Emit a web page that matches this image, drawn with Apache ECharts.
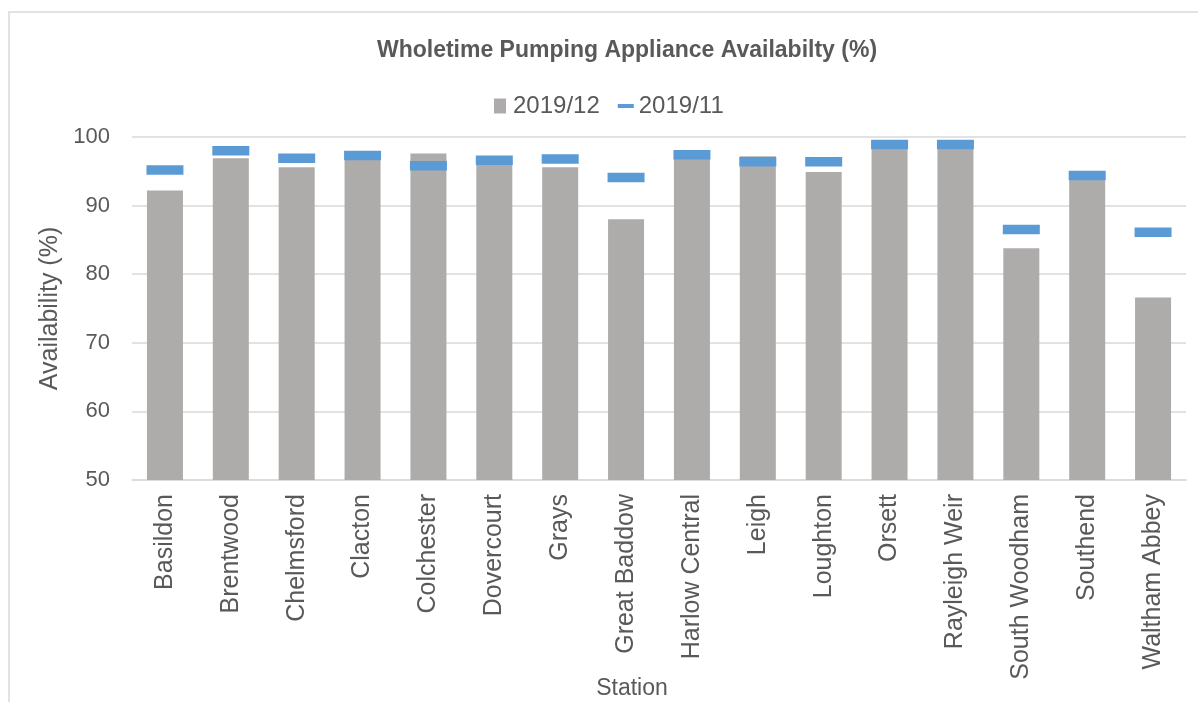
<!DOCTYPE html>
<html>
<head>
<meta charset="utf-8">
<script src="https://cdn.jsdelivr.net/npm/echarts@6/dist/echarts.min.js"></script>
<style>
html,body{margin:0;padding:0;background:#fff;}
#c{width:1198px;height:702px;}
</style>
</head>
<body>
<div id="c"></div>
<script>
const stations = ['Basildon','Brentwood','Chelmsford','Clacton','Colchester','Dovercourt','Grays','Great Baddow','Harlow Central','Leigh','Loughton','Orsett','Rayleigh Weir','South Woodham','Southend','Waltham Abbey'];
const dec2019 = [92.2, 96.9, 95.6, 96.8, 97.6, 96.0, 95.6, 88.0, 97.0, 97.2, 94.9, 98.4, 98.4, 83.8, 94.0, 76.6];
const nov2019 = [95.2, 98.0, 96.9, 97.3, 95.8, 96.6, 96.8, 94.1, 97.4, 96.4, 96.4, 98.9, 98.9, 86.5, 94.4, 86.1];
const yTicks = [50, 60, 70, 80, 90, 100];

const txt = '#595959';
const font = 'Liberation Sans, Arial, sans-serif';
const chart = echarts.init(document.getElementById('c'));
chart.setOption({
  animation: false,
  backgroundColor: '#fff',
  textStyle: {fontFamily: font, color: txt},
  graphic: [{
    type: 'rect', shape: {x: 9, y: 12, width: 1300, height: 800},
    style: {fill: 'none', stroke: '#d9d9d9', lineWidth: 1.5}, silent: true
  }],
  title: {
    text: 'Wholetime Pumping Appliance Availabilty (%)',
    left: 622, top: 34, textAlign: 'center',
    textStyle: {fontFamily: font, fontSize: 23, fontWeight: 'bold', color: txt}
  },
  legend: {
    left: 489, top: 89, itemGap: 18, itemWidth: 16, itemHeight: 15,
    textStyle: {fontFamily: font, fontSize: 24, color: txt},
    data: [
      {name: '2019/12', icon: 'path://M0,0H12V15H0Z'},
      {name: '2019/11', icon: 'path://M0,0H16V4H0Z'}
    ]
  },
  grid: {left: 132, right: 12, top: 137, bottom: 222, containLabel: false, outerBoundsMode: 'none'},
  xAxis: {
    type: 'category', data: stations,
    name: 'Station', nameLocation: 'middle', nameGap: 197, nameMoveOverlap: false,
    nameTextStyle: {fontFamily: font, fontSize: 23, color: txt, padding: [0, 54, 0, 0]},
    axisLine: {lineStyle: {color: '#d9d9d9', width: 1.5}},
    axisTick: {show: false},
    axisLabel: {rotate: 90, margin: 14, fontFamily: font, fontSize: 25, color: txt, interval: 0}
  },
  yAxis: {
    type: 'value', min: yTicks[0], max: yTicks[yTicks.length - 1], interval: 10,
    name: 'Availability (%)', nameLocation: 'middle', nameGap: 64, nameRotate: 90,
    nameTextStyle: {fontFamily: font, fontSize: 25, color: txt},
    axisLine: {show: false}, axisTick: {show: false},
    splitLine: {lineStyle: {color: '#d9d9d9', width: 1.5}},
    axisLabel: {margin: 22, fontFamily: font, fontSize: 22, color: txt}
  },
  series: [
    {
      name: '2019/12', type: 'bar', data: dec2019, barWidth: 36,
      itemStyle: {color: '#AEABAB'}, z: 2
    },
    {
      name: '2019/11', type: 'scatter', data: nov2019,
      symbol: 'rect', symbolSize: [37, 9.5],
      itemStyle: {color: '#5B9BD5', opacity: 1}, z: 3
    }
  ]
});
</script>
</body>
</html>
